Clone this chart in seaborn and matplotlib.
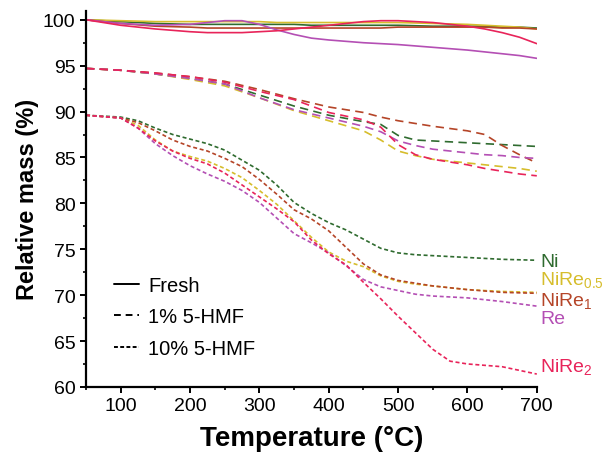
import matplotlib
matplotlib.use("Agg")
import matplotlib.pyplot as plt
from matplotlib.lines import Line2D
import seaborn as sns
import pandas as pd

# --- datos ---
catalizadores = ["Ni", "NiRe0.5", "NiRe1", "Re", "NiRe2"]
etiquetas = ["Ni", "NiRe$_{0.5}$", "NiRe$_{1}$", "Re", "NiRe$_{2}$"]
colores = ["#2f6b2f", "#d6bd2c", "#b54528", "#b44fb4", "#e8245a"]

temp_fresh = [50, 100, 150, 200, 225, 250, 275, 300, 325, 350, 375, 400, 450, 475, 500, 550, 600, 625, 650, 675, 700]
fresh = {
    "Ni":      [100, 99.8, 99.6, 99.5, 99.5, 99.5, 99.5, 99.5, 99.5, 99.5, 99.4, 99.4, 99.4, 99.4, 99.4, 99.3, 99.3, 99.3, 99.2, 99.2, 99.1],
    "NiRe0.5": [100, 99.9, 99.8, 99.8, 99.8, 99.8, 99.8, 99.8, 99.7, 99.7, 99.7, 99.7, 99.7, 99.7, 99.7, 99.6, 99.5, 99.4, 99.3, 99.2, 99.0],
    "NiRe1":   [100, 99.6, 99.3, 99.2, 99.1, 99.1, 99.1, 99.1, 99.1, 99.1, 99.1, 99.1, 99.1, 99.1, 99.2, 99.2, 99.2, 99.2, 99.1, 99.1, 99.0],
    "Re":      [100, 99.6, 99.4, 99.5, 99.7, 99.9, 99.9, 99.5, 98.9, 98.4, 98.0, 97.8, 97.5, 97.4, 97.3, 97.0, 96.7, 96.5, 96.3, 96.1, 95.8],
    "NiRe2":   [100, 99.4, 99.0, 98.7, 98.6, 98.6, 98.6, 98.7, 98.8, 99.0, 99.2, 99.4, 99.8, 99.9, 99.9, 99.7, 99.3, 99.0, 98.6, 98.1, 97.4],
}

temp_hmf1 = [50, 100, 150, 200, 250, 300, 350, 400, 450, 475, 500, 525, 550, 600, 625, 650, 675, 700]
hmf1 = {
    "Ni":      [94.7, 94.5, 94.1, 93.6, 93.0, 91.8, 90.6, 89.6, 88.9, 88.6, 87.4, 86.9, 86.8, 86.6, 86.5, 86.4, 86.3, 86.2],
    "NiRe0.5": [94.7, 94.5, 94.1, 93.5, 92.8, 91.5, 90.1, 89.0, 87.9, 86.9, 85.7, 85.2, 84.8, 84.4, 84.2, 84.0, 83.8, 83.5],
    "NiRe1":   [94.7, 94.5, 94.2, 93.8, 93.3, 92.4, 91.4, 90.5, 89.9, 89.4, 89.0, 88.7, 88.4, 87.9, 87.5, 86.3, 85.3, 84.4],
    "Re":      [94.7, 94.5, 94.1, 93.6, 93.0, 91.5, 90.2, 89.3, 88.4, 87.8, 86.8, 86.3, 85.9, 85.5, 85.3, 85.2, 85.0, 84.9],
    "NiRe2":   [94.7, 94.5, 94.2, 93.8, 93.2, 92.2, 91.3, 89.9, 89.1, 88.3, 86.4, 85.3, 84.8, 84.2, 83.8, 83.5, 83.2, 83.0],
}

temp_hmf10 = [50, 100, 125, 150, 175, 200, 225, 250, 275, 300, 325, 350, 375, 400, 425, 450, 475, 500, 525, 550, 575, 600, 650, 700]
hmf10 = {
    "Ni":      [89.6, 89.4, 89.0, 88.2, 87.5, 87.0, 86.5, 85.8, 84.7, 83.6, 82.0, 80.1, 78.9, 77.9, 77.1, 76.1, 75.1, 74.6, 74.4, 74.3, 74.2, 74.1, 73.9, 73.8],
    "NiRe0.5": [89.6, 89.3, 88.5, 86.9, 85.7, 85.1, 84.6, 83.8, 82.8, 81.4, 79.9, 78.1, 76.3, 74.7, 73.7, 73.1, 72.1, 71.5, 71.2, 71.0, 70.8, 70.6, 70.4, 70.3],
    "NiRe1":   [89.6, 89.3, 88.8, 87.9, 86.9, 86.2, 85.7, 84.9, 84.0, 82.6, 81.0, 79.3, 78.3, 77.0, 75.2, 73.4, 72.2, 71.6, 71.3, 71.0, 70.8, 70.6, 70.3, 70.2],
    "Re":      [89.6, 89.3, 88.2, 86.5, 85.2, 84.1, 83.2, 82.4, 81.4, 80.1, 78.4, 76.7, 75.7, 74.6, 73.2, 71.7, 70.9, 70.5, 70.1, 69.9, 69.8, 69.7, 69.3, 68.8],
    "NiRe2":   [89.6, 89.3, 88.2, 86.8, 85.7, 84.9, 84.3, 83.3, 82.0, 80.7, 79.4, 78.0, 76.0, 74.5, 73.3, 71.4, 69.6, 67.7, 65.9, 64.1, 62.8, 62.5, 62.2, 61.4],
}

condiciones = ["Fresh", "1% 5-HMF", "10% 5-HMF"]
# posicion vertical (en % masa) de las etiquetas de la derecha
y_etiquetas = [73.7, 71.8, 69.5, 67.4, 62.3]

# --- tabla larga para seaborn ---
filas = []
for cond, temps, serie in zip(condiciones, [temp_fresh, temp_hmf1, temp_hmf10], [fresh, hmf1, hmf10]):
    for cat in catalizadores:
        for t, m in zip(temps, serie[cat]):
            filas.append({"temp": t, "masa": m, "cat": cat, "cond": cond})
df = pd.DataFrame(filas)

sns.set_style("ticks")
plt.rcParams["font.family"] = ["Liberation Sans", "DejaVu Sans"]
plt.rcParams["mathtext.fontset"] = "custom"
plt.rcParams["mathtext.rm"] = "Liberation Sans"
plt.rcParams["mathtext.default"] = "regular"
plt.rcParams["text.color"] = "black"
plt.rcParams["axes.labelcolor"] = "black"
plt.rcParams["axes.edgecolor"] = "black"

fig = plt.figure(figsize=(6.1, 4.64), dpi=100)
ax = fig.add_axes([0.141, 0.164, 0.739, 0.811])

paleta = dict(zip(catalizadores, colores))
estilos = {"Fresh": "", "1% 5-HMF": (5, 3.2), "10% 5-HMF": (2.4, 1.6)}
sns.lineplot(data=df, x="temp", y="masa", hue="cat", style="cond", palette=paleta,
             dashes=estilos, estimator=None, sort=False, lw=1.2, legend=False, ax=ax)

ax.set_xlim(50, 700)
ax.set_ylim(60, 101)
ax.set_xticks(range(100, 701, 100))
ax.set_xticks(range(50, 701, 50), minor=True)
ax.set_yticks(range(60, 101, 5))
ax.set_yticks([60 + 2.5 * i for i in range(17)], minor=True)
ax.tick_params(which="major", direction="out", length=4, width=1.4, labelsize=14, colors="black")
ax.tick_params(which="minor", direction="out", length=2.5, width=1.2, colors="black")
for lado in ["left", "bottom"]:
    ax.spines[lado].set_linewidth(1.6)
sns.despine(ax=ax)

ax.set_xlabel("Temperature (°C)", fontsize=20, fontweight="bold", labelpad=8)
ax.set_ylabel("Relative mass (%)", fontsize=17, fontweight="bold", labelpad=3)

for lab, col, yy in zip(etiquetas, colores, y_etiquetas):
    ax.text(705, yy, lab, color=col, fontsize=14, va="center", ha="left", clip_on=False)

manejadores = [Line2D([], [], color="black", lw=1.4, ls="-"),
               Line2D([], [], color="black", lw=1.4, ls=(0, (3.5, 2.5))),
               Line2D([], [], color="black", lw=1.4, ls=(0, (2.0, 1.2)))]
ax.legend(manejadores, condiciones, loc="upper left", bbox_to_anchor=(0.062, 0.295),
          frameon=False, fontsize=14.5, handlelength=1.25, handletextpad=0.45,
          labelspacing=0.62, borderpad=0, borderaxespad=0)

fig.savefig("out.png", dpi=100)
